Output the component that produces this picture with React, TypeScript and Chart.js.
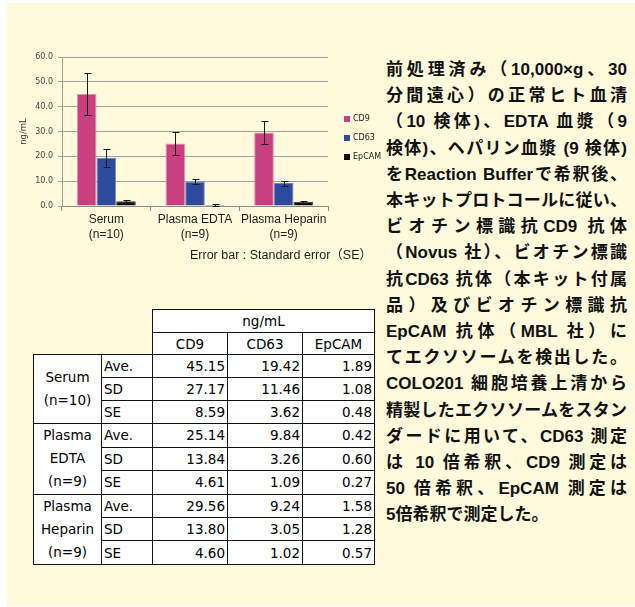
import React, { useEffect, useRef } from "react";
import { Chart, registerables } from "chart.js";

Chart.register(...registerables);

// Sample groups and marker names
const categories = ["Serum", "Plasma EDTA", "Plasma Heparin"];
const sampleSizes = ["(n=10)", "(n=9)", "(n=9)"];
const markers = ["CD9", "CD63", "EpCAM"];

// Mean concentrations (ng/mL)
const cd9Ave = [45.15, 25.14, 29.56];
const cd63Ave = [19.42, 9.84, 9.24];
const epcamAve = [1.89, 0.42, 1.58];

// Standard deviations
const cd9SD = [27.17, 13.84, 13.8];
const cd63SD = [11.46, 3.26, 3.05];
const epcamSD = [1.08, 0.6, 1.28];

// Standard errors (drawn as error bars)
const cd9SE = [8.59, 4.61, 4.6];
const cd63SE = [3.62, 1.09, 1.02];
const epcamSE = [0.48, 0.27, 0.57];

// Y axis range
const yMin = 0;
const yMax = 60;
const yStep = 10;

const markerColors = ["#c8407f", "#2e4a9c", "#0c0c0c"];
const markerEdges = ["#e58ab3", "#6f86c6", "#4a4a4a"];

// Row labels of the table, one entry per line
const groupLines = [
  ["Serum", "(n=10)"],
  ["Plasma", "EDTA", "(n=9)"],
  ["Plasma", "Heparin", "(n=9)"],
];
const statNames = ["Ave.", "SD", "SE"];

const descriptionLines = [
  "前処理済み（10,000×g、30",
  "分間遠心）の正常ヒト血清",
  "（10 検体)、EDTA 血漿（9",
  "検体)、ヘパリン血漿 (9 検体)",
  "をReaction Bufferで希釈後、",
  "本キットプロトコールに従い、",
  "ビオチン標識抗CD9 抗体",
  "（Novus 社）、ビオチン標識",
  "抗CD63 抗体（本キット付属",
  "品）及びビオチン標識抗",
  "EpCAM 抗体（MBL 社）に",
  "てエクソソームを検出した。",
  "COLO201 細胞培養上清から",
  "精製したエクソソームをスタン",
  "ダードに用いて、CD63 測定",
  "は 10 倍希釈、CD9 測定は",
  "50 倍希釈、EpCAM 測定は",
  "5倍希釈で測定した。",
];

const aveByMarker = [cd9Ave, cd63Ave, epcamAve];
const sdByMarker = [cd9SD, cd63SD, epcamSD];
const seByMarker = [cd9SE, cd63SE, epcamSE];

// Draws a vertical error bar with caps over every bar
const errorBarPlugin = {
  id: "errorBars",
  afterDatasetsDraw(chart: any) {
    const { ctx } = chart;
    const yScale = chart.scales.y;
    ctx.save();
    ctx.strokeStyle = "#1a1a1a";
    ctx.lineWidth = 1;
    chart.data.datasets.forEach((ds: any, di: number) => {
      const meta = chart.getDatasetMeta(di);
      meta.data.forEach((bar: any, i: number) => {
        const v = ds.data[i];
        const e = ds.errors[i];
        const x = Math.round(bar.x) + 0.5;
        const yTop = Math.round(yScale.getPixelForValue(v + e)) + 0.5;
        const yBot = Math.round(yScale.getPixelForValue(Math.max(0, v - e))) + 0.5;
        ctx.beginPath();
        ctx.moveTo(x, yTop);
        ctx.lineTo(x, yBot);
        ctx.moveTo(x - 3, yTop);
        ctx.lineTo(x + 4, yTop);
        ctx.moveTo(x - 3, yBot);
        ctx.lineTo(x + 4, yBot);
        ctx.stroke();
      });
    });
    ctx.restore();
  },
};

// Small square legend to the right of the plot
const sideLegendPlugin = {
  id: "sideLegend",
  afterDraw(chart: any) {
    const { ctx, chartArea } = chart;
    const x = chartArea.right + 16;
    ctx.save();
    ctx.font = "8px 'DejaVu Sans'";
    ctx.textBaseline = "middle";
    chart.data.datasets.forEach((ds: any, i: number) => {
      const cy = chartArea.top + 62 + i * 19;
      ctx.fillStyle = ds.backgroundColor;
      ctx.fillRect(x, cy - 3, 6, 6);
      ctx.fillStyle = "#222";
      ctx.fillText(ds.label, x + 9, cy);
    });
    ctx.restore();
  },
};

function BarChart() {
  const ref = useRef<HTMLCanvasElement | null>(null);

  useEffect(() => {
    if (!ref.current) return;
    const chart = new Chart(ref.current, {
      type: "bar",
      data: {
        labels: categories.map((c, i) => [c, sampleSizes[i]]),
        datasets: markers.map((m, k) => ({
          label: m,
          data: aveByMarker[k],
          errors: seByMarker[k],
          backgroundColor: markerColors[k],
          borderColor: markerEdges[k],
          borderWidth: 1,
          categoryPercentage: 0.665,
          barPercentage: 1.0,
        })) as any,
      },
      options: {
        animation: false,
        responsive: false,
        devicePixelRatio: 1,
        layout: { padding: { top: 17, right: 53, left: 0, bottom: 0 } },
        plugins: {
          legend: { display: false },
          tooltip: { enabled: false },
        },
        scales: {
          x: {
            grid: {
              display: true,
              drawOnChartArea: false,
              offset: true,
              tickLength: 5,
              color: "#8c8c8c",
            },
            border: { color: "#8c8c8c" },
            ticks: {
              color: "#1e1e1e",
              font: { family: "'Liberation Sans'", size: 12, lineHeight: 1.25 },
              padding: 1,
              maxRotation: 0,
              autoSkip: false,
            },
            afterFit: (s: any) => {
              s.height = 44;
            },
          },
          y: {
            min: yMin,
            max: yMax,
            ticks: {
              stepSize: yStep,
              callback: (v: any) => Number(v).toFixed(1),
              color: "#444",
              font: { family: "'DejaVu Sans'", size: 8 },
              padding: 5,
            },
            grid: { color: "#a0a0a0", tickLength: 4 },
            border: { color: "#a0a0a0" },
            title: {
              display: true,
              text: "ng/mL",
              color: "#333",
              font: { family: "'DejaVu Sans'", size: 8.5 },
              padding: { top: 11, bottom: 0 },
            },
            afterFit: (s: any) => {
              s.width = 54;
            },
          },
        },
      },
      plugins: [errorBarPlugin, sideLegendPlugin],
    });
    return () => chart.destroy();
  }, []);

  return (
    <canvas
      ref={ref}
      width={373}
      height={210}
      style={{ position: "absolute", left: 8, top: 40, width: 373, height: 210 }}
    />
  );
}

const cellBorder = "1px solid #111";

function DataTable() {
  const colWidths = [68, 51, 75, 75, 72];
  const numCell: React.CSSProperties = {
    border: cellBorder,
    background: "#fff",
    textAlign: "right",
    padding: "0 2px 0 0",
  };
  const headCell: React.CSSProperties = {
    border: cellBorder,
    background: "#fff",
    textAlign: "center",
    padding: 0,
  };
  return (
    <table
      style={{
        position: "absolute",
        left: 33,
        top: 309,
        borderCollapse: "collapse",
        tableLayout: "fixed",
        width: 341,
        fontFamily: "'DejaVu Sans', sans-serif",
        fontSize: 13.5,
        color: "#000",
      }}
    >
      <colgroup>
        {colWidths.map((w, i) => (
          <col key={i} style={{ width: w }} />
        ))}
      </colgroup>
      <tbody>
        <tr style={{ height: 23 }}>
          <td colSpan={2} style={{ border: "none" }} />
          <td colSpan={3} style={headCell}>
            ng/mL
          </td>
        </tr>
        <tr style={{ height: 22 }}>
          <td colSpan={2} style={{ border: "none" }} />
          {markers.map((m) => (
            <td key={m} style={headCell}>
              {m}
            </td>
          ))}
        </tr>
        {categories.map((_, g) =>
          statNames.map((s, r) => {
            const source = r === 0 ? aveByMarker : r === 1 ? sdByMarker : seByMarker;
            return (
              <tr key={g + "-" + r} style={{ height: 23.1 }}>
                {r === 0 && (
                  <td
                    rowSpan={3}
                    style={{
                      border: cellBorder,
                      background: "#fff",
                      textAlign: "center",
                      verticalAlign: "middle",
                      lineHeight: "23.1px",
                      padding: 0,
                    }}
                  >
                    {groupLines[g].map((l, k) => (
                      <div key={k}>{l}</div>
                    ))}
                  </td>
                )}
                <td
                  style={{
                    border: cellBorder,
                    background: "#fff",
                    textAlign: "left",
                    padding: "0 0 0 2px",
                  }}
                >
                  {s}
                </td>
                {source.map((arr, k) => (
                  <td key={k} style={numCell}>
                    {arr[g].toFixed(2)}
                  </td>
                ))}
              </tr>
            );
          })
        )}
      </tbody>
    </table>
  );
}

function Description() {
  return (
    <div
      style={{
        position: "absolute",
        left: 386,
        top: 57,
        width: 241,
        fontFamily: "'Liberation Sans', 'Noto Sans CJK JP', sans-serif",
        fontWeight: 700,
        fontSize: 17,
        lineHeight: "26.2px",
        color: "#111",
      }}
    >
      {descriptionLines.map((line, i) => {
        const last = i === descriptionLines.length - 1;
        return (
          <div
            key={i}
            style={{
              whiteSpace: "nowrap",
              textAlign: last ? "left" : "justify",
              textAlignLast: last ? "left" : "justify",
            }}
          >
            {line}
          </div>
        );
      })}
    </div>
  );
}

export default function App() {
  return (
    <div style={{ position: "fixed", left: 0, top: 0, width: 635, height: 607, overflow: "hidden" }}>
      <div
        style={{
          position: "absolute",
          left: 7,
          top: 3,
          width: 628,
          height: 603,
          background: "#fffadc",
        }}
      />
      <BarChart />
      <div
        style={{
          position: "absolute",
          left: 120,
          top: 247,
          width: 252,
          textAlign: "right",
          fontFamily: "'Liberation Sans', 'Noto Sans CJK JP', sans-serif",
          fontSize: 12.5,
          lineHeight: "16px",
          color: "#1e1e1e",
          whiteSpace: "nowrap",
        }}
      >
        Error bar : Standard error（SE）
      </div>
      <DataTable />
      <Description />
    </div>
  );
}
